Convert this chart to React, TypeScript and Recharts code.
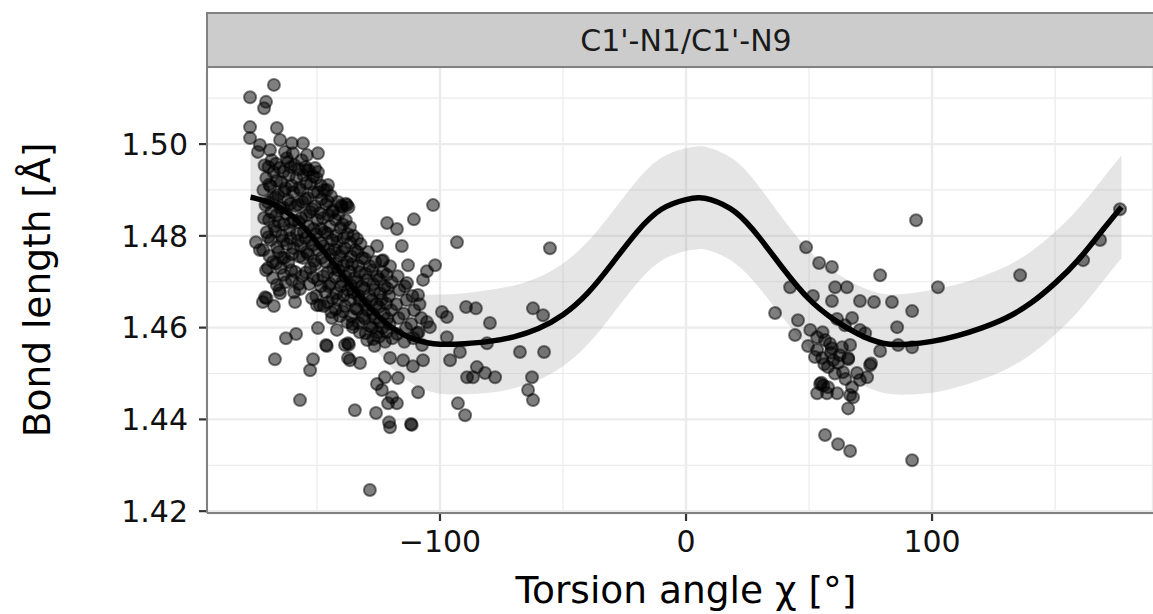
import React from 'react';
import { ComposedChart, Scatter, Line, Area, XAxis, YAxis, CartesianGrid } from 'recharts';

// ---- data ----
const xMajorTicks = [-100, 0, 100];
const xMinorTicks = [-150, -50, 50, 150];
const yMajorTicks = [1.42, 1.44, 1.46, 1.48, 1.5];
const yMinorTicks = [1.43, 1.45, 1.47, 1.49, 1.51];
const xDomain = [-194.7, 189.8];
const yDomain = [1.4196, 1.5168];

const facetLabel = "C1'-N1/C1'-N9";
const xTitle = 'Torsion angle χ [°]';
const yTitle = 'Bond length [Å]';

// smooth fit: chi, fitted bond length, half-width of confidence band
const fitChi = [-177, -170, -160, -150, -140, -130, -120, -110, -100, -90, -80, -70, -60, -50, -40, -30, -20, -10, 0, 5, 10, 20, 30, 40, 50, 60, 70, 80, 90, 100, 110, 120, 130, 140, 150, 160, 170, 177];
const fitValue = [1.4884, 1.4874, 1.4843, 1.4785, 1.4718, 1.4652, 1.4602, 1.4574, 1.4564, 1.4565, 1.457, 1.458, 1.4598, 1.4628, 1.4675, 1.474, 1.4808, 1.4858, 1.4879, 1.4883, 1.4879, 1.4852, 1.4795, 1.4725, 1.4662, 1.4618, 1.4586, 1.4566, 1.4564, 1.457, 1.4582, 1.4599, 1.4621, 1.4653, 1.4697, 1.4751, 1.4817, 1.4863];
const fitHalfWidth = [0.01, 0.0085, 0.007, 0.0062, 0.0062, 0.0072, 0.0088, 0.01, 0.0108, 0.011, 0.0112, 0.0112, 0.0112, 0.0112, 0.0112, 0.0112, 0.0112, 0.0112, 0.0112, 0.0112, 0.0112, 0.0112, 0.011, 0.0108, 0.0106, 0.0105, 0.0106, 0.0108, 0.011, 0.0112, 0.0112, 0.0112, 0.0112, 0.0112, 0.0112, 0.0112, 0.0112, 0.0112];

// observations in the anti region [chi, bond length]
const antiOuter: [number, number][] = [
  [-167.5, 1.5129], [-177.2, 1.5102], [-170.7, 1.5092], [-171.5, 1.5078], [-177.2, 1.5037], [-166.3, 1.5035], [-177.2, 1.5013], [-173.2, 1.4998], [-165.0, 1.5009], [-160.2, 1.5002], [-155.7, 1.5002], [-154.1, 1.4976], [-149.6, 1.498], [-150.8, 1.4948], [-149.6, 1.4939], [-145.5, 1.4911], [-146.0, 1.49], [-141.5, 1.4874], [-139.8, 1.4863], [-140.2, 1.4866], [-143.5, 1.4856], [-174.0, 1.4983], [-169.1, 1.4987], [-163.0, 1.4983], [-159.8, 1.498], [-161.8, 1.4961], [-154.1, 1.4943],
  [-174.8, 1.4786], [-173.2, 1.4769], [-169.9, 1.473], [-166.3, 1.4693], [-165.0, 1.4675], [-171.1, 1.4666], [-170.5, 1.4664], [-172.0, 1.4656], [-167.5, 1.4647], [-158.9, 1.4656], [-156.9, 1.4684], [-152.0, 1.4664], [-150.0, 1.4649], [-148.8, 1.4649], [-143.9, 1.4621], [-149.6, 1.4599], [-141.9, 1.4595], [-162.6, 1.4577], [-158.5, 1.4586], [-146.3, 1.4562], [-146.0, 1.456], [-138.6, 1.4562], [-167.1, 1.4531], [-151.6, 1.4531], [-137.4, 1.4534], [-160.2, 1.4704], [-167.9, 1.4708], [-164.2, 1.4752], [-152.8, 1.4507], [-156.9, 1.4442],
  [-102.8, 1.4867], [-110.6, 1.4836], [-121.5, 1.4828], [-117.5, 1.4815], [-93.1, 1.4786], [-125.6, 1.4778], [-115.5, 1.4778], [-123.2, 1.4747], [-123.6, 1.4745], [-113.0, 1.4736], [-102.0, 1.4736], [-105.3, 1.4723], [-106.9, 1.4704], [-113.4, 1.4697], [-108.9, 1.4671], [-137.8, 1.4867], [-137.2, 1.4862], [-138.3, 1.487], [-136.6, 1.4819], [-133.7, 1.4793],
  [-99.2, 1.4634], [-97.2, 1.4623], [-105.3, 1.4612], [-104.1, 1.4601], [-97.2, 1.4579], [-109.3, 1.4588], [-107.3, 1.4562], [-95.9, 1.4529], [-106.9, 1.4529], [-111.0, 1.4516], [-115.0, 1.4529], [-120.3, 1.4534], [-132.5, 1.4523], [-136.6, 1.4529], [-137.4, 1.4566], [-137.0, 1.4563], [-135.4, 1.4601], [-117.1, 1.449], [-122.4, 1.4492], [-125.6, 1.4477], [-123.6, 1.4464], [-119.5, 1.4448], [-117.5, 1.4435], [-121.1, 1.4435], [-108.9, 1.4459], [-134.6, 1.442], [-126.0, 1.4414], [-120.7, 1.4394], [-120.3, 1.4383], [-111.8, 1.439], [-111.5, 1.4388], [-92.7, 1.4435],
  [-55.3, 1.4773], [-89.4, 1.4645], [-85.4, 1.4642], [-79.7, 1.461], [-62.2, 1.4642], [-58.1, 1.4627], [-67.5, 1.4547], [-57.7, 1.4547], [-80.9, 1.4566], [-91.9, 1.4547], [-85.0, 1.4514], [-89.0, 1.4492], [-86.6, 1.4492], [-81.7, 1.4501], [-77.6, 1.4492], [-62.6, 1.4492], [-64.2, 1.4464], [-62.2, 1.4442], [-89.8, 1.4409], [-128.5, 1.4246],
];

const antiDense: [number, number][] = [
  [-171.3, 1.4954], [-170.6, 1.4926], [-171.8, 1.49], [-170.9, 1.4867], [-171.5, 1.4839], [-170.4, 1.4808], [-171.9, 1.4769], [-170.7, 1.4725],
  [-168.4, 1.4965], [-167.6, 1.4939], [-168.9, 1.4908], [-167.8, 1.4882], [-168.5, 1.4852], [-167.3, 1.4821], [-168.7, 1.4791], [-167.9, 1.4743],
  [-165.2, 1.4948], [-164.5, 1.4917], [-165.8, 1.4889], [-164.8, 1.486], [-165.5, 1.483], [-164.3, 1.48], [-165.6, 1.4765], [-164.7, 1.473], [-165.3, 1.4682],
  [-162.3, 1.4969], [-161.4, 1.4932], [-162.7, 1.4904], [-161.8, 1.4878], [-162.5, 1.4848], [-161.2, 1.4813], [-162.2, 1.4782], [-161.6, 1.4743], [-162.8, 1.4699],
  [-159.1, 1.4954], [-158.4, 1.4926], [-159.6, 1.4895], [-158.7, 1.4865], [-159.4, 1.4834], [-158.2, 1.4804], [-159.5, 1.4773], [-158.8, 1.4721], [-159.3, 1.4677],
  [-156.2, 1.4965], [-155.5, 1.4932], [-156.7, 1.49], [-155.8, 1.4874], [-156.4, 1.4839], [-155.3, 1.4808], [-156.6, 1.4778], [-155.7, 1.4752], [-156.1, 1.4712],
  [-153.3, 1.4943], [-152.5, 1.4913], [-153.7, 1.4882], [-152.8, 1.4852], [-153.5, 1.4821], [-152.3, 1.4791], [-153.6, 1.476], [-152.7, 1.473], [-153.1, 1.4695],
  [-150.2, 1.4926], [-149.6, 1.4895], [-150.8, 1.4865], [-149.8, 1.4834], [-150.5, 1.4804], [-149.4, 1.4769], [-150.6, 1.4738], [-149.7, 1.4704], [-150.3, 1.4669],
  [-147.1, 1.49], [-146.5, 1.4869], [-147.6, 1.4839], [-146.8, 1.4808], [-147.4, 1.4778], [-146.3, 1.4743], [-147.5, 1.4712], [-146.6, 1.4677], [-147.2, 1.4647],
  [-144.3, 1.4887], [-143.6, 1.4852], [-144.7, 1.4821], [-143.8, 1.4791], [-144.5, 1.476], [-143.4, 1.473], [-144.6, 1.4695], [-143.7, 1.4664], [-144.2, 1.4634],
  [-141.2, 1.4847], [-140.5, 1.4817], [-141.7, 1.4786], [-140.8, 1.4756], [-141.4, 1.4725], [-140.3, 1.469], [-141.6, 1.466], [-140.7, 1.4625],
  [-138.3, 1.4834], [-137.6, 1.4804], [-138.7, 1.4773], [-137.8, 1.4743], [-138.5, 1.4712], [-137.4, 1.4682], [-138.6, 1.4647], [-137.7, 1.4612],
  [-135.2, 1.48], [-134.5, 1.4769], [-135.7, 1.4738], [-134.8, 1.4708], [-135.4, 1.4677], [-134.3, 1.4642], [-135.6, 1.4608],
  [-132.3, 1.4782], [-131.6, 1.4752], [-132.7, 1.4721], [-131.8, 1.469], [-132.5, 1.466], [-131.4, 1.4625], [-132.6, 1.459],
  [-129.2, 1.4765], [-128.5, 1.4734], [-129.7, 1.4704], [-128.8, 1.4669], [-129.4, 1.4638], [-128.3, 1.4603], [-129.6, 1.4573],
  [-126.3, 1.4743], [-125.6, 1.4712], [-126.7, 1.4682], [-125.8, 1.4651], [-126.5, 1.4621], [-125.4, 1.459], [-126.6, 1.456],
  [-123.2, 1.4721], [-122.5, 1.469], [-123.7, 1.466], [-122.8, 1.463], [-123.4, 1.4599], [-122.3, 1.4569],
  [-120.3, 1.4734], [-119.6, 1.4699], [-120.7, 1.4669], [-119.8, 1.4638], [-120.5, 1.4608], [-119.4, 1.4577],
  [-117.2, 1.4712], [-116.5, 1.4682], [-117.7, 1.4651], [-116.8, 1.4621], [-117.4, 1.4586],
  [-114.3, 1.469], [-113.6, 1.466], [-114.7, 1.463], [-113.8, 1.4599], [-114.5, 1.4569],
  [-111.2, 1.4669], [-110.5, 1.4638], [-111.7, 1.4608], [-110.8, 1.4577],
  [-108.3, 1.4651], [-107.6, 1.4621], [-108.7, 1.459],
];

const antiCore: [number, number][] = [
  [-169.7, 1.495], [-169.4, 1.4912], [-169.9, 1.4873], [-169.5, 1.4835], [-169.8, 1.4797], [-169.3, 1.4756],
  [-166.7, 1.4957], [-166.4, 1.492], [-166.9, 1.4884], [-166.5, 1.4845], [-166.8, 1.481], [-166.2, 1.4775], [-166.6, 1.474],
  [-163.6, 1.494], [-163.3, 1.4898], [-163.8, 1.4862], [-163.4, 1.4825], [-163.7, 1.479], [-163.2, 1.4752], [-163.5, 1.4715],
  [-160.6, 1.495], [-160.3, 1.491], [-160.8, 1.487], [-160.4, 1.483], [-160.7, 1.4795], [-160.2, 1.476], [-160.5, 1.4725],
  [-157.5, 1.4945], [-157.2, 1.4905], [-157.7, 1.4868], [-157.3, 1.483], [-157.6, 1.479], [-157.1, 1.4755], [-157.4, 1.4695],
  [-154.6, 1.495], [-154.3, 1.4915], [-154.8, 1.488], [-154.4, 1.4845], [-154.7, 1.4795], [-154.2, 1.4765], [-154.5, 1.472],
  [-151.6, 1.493], [-151.3, 1.4895], [-151.8, 1.4858], [-151.4, 1.4815], [-151.7, 1.478], [-151.2, 1.4745], [-151.5, 1.471],
  [-148.5, 1.491], [-148.2, 1.488], [-148.7, 1.485], [-148.3, 1.4815], [-148.6, 1.4785], [-148.1, 1.4752], [-148.4, 1.469],
  [-145.6, 1.4875], [-145.3, 1.4845], [-145.8, 1.4805], [-145.4, 1.477], [-145.7, 1.472], [-145.2, 1.469], [-145.5, 1.4655],
  [-142.5, 1.4835], [-142.2, 1.48], [-142.7, 1.477], [-142.3, 1.474], [-142.6, 1.471], [-142.1, 1.4675], [-142.4, 1.464],
  [-139.5, 1.4825], [-139.2, 1.4795], [-139.7, 1.4765], [-139.3, 1.4735], [-139.6, 1.47], [-139.1, 1.467], [-139.4, 1.4635],
  [-136.4, 1.4785], [-136.1, 1.4755], [-136.6, 1.4722], [-136.2, 1.4692], [-136.5, 1.466], [-136.0, 1.4625],
  [-133.5, 1.4765], [-133.2, 1.4735], [-133.7, 1.47], [-133.3, 1.467], [-133.6, 1.464], [-133.1, 1.461],
  [-130.6, 1.475], [-130.3, 1.4718], [-130.8, 1.4685], [-130.4, 1.465], [-130.7, 1.462], [-130.2, 1.4588],
  [-127.5, 1.4725], [-127.2, 1.4695], [-127.7, 1.466], [-127.3, 1.463], [-127.6, 1.46], [-127.1, 1.4575],
  [-124.6, 1.4705], [-124.3, 1.4675], [-124.8, 1.4645], [-124.4, 1.4612], [-124.7, 1.458],
  [-121.6, 1.4715], [-121.3, 1.4685], [-121.8, 1.4652], [-121.4, 1.462], [-121.7, 1.459],
];

// observations in the syn / high-anti region
const synPoints: [number, number][] = [
  [36.2, 1.4632], [42.3, 1.4688], [48.8, 1.4775], [54.1, 1.4741], [59.3, 1.4732], [78.9, 1.4714], [60.6, 1.4688], [65.4, 1.4688], [51.6, 1.4669], [59.3, 1.4658], [70.7, 1.4658], [76.4, 1.4656], [83.7, 1.4656], [91.9, 1.4636], [45.5, 1.4616], [61.4, 1.4619], [67.5, 1.4621], [64.6, 1.4605], [70.7, 1.4595], [72.8, 1.4588], [85.8, 1.4601], [44.3, 1.4584], [49.6, 1.456], [53.3, 1.4579], [56.5, 1.4573], [59.3, 1.4555], [63.4, 1.4557], [66.7, 1.4562], [78.9, 1.4549], [86.2, 1.4562], [91.9, 1.4557], [53.3, 1.4551], [52.4, 1.4536], [55.3, 1.4534], [59.8, 1.4529], [65.9, 1.4531], [57.7, 1.4514], [61.8, 1.4523], [63.8, 1.4503], [65.9, 1.4534], [69.5, 1.4501], [74.8, 1.4518], [75.2, 1.4522], [73.6, 1.4492], [70.7, 1.4486], [54.5, 1.4477], [55.0, 1.448], [55.8, 1.4474], [57.7, 1.447], [53.3, 1.4457], [57.3, 1.4457], [61.4, 1.4457], [67.5, 1.447], [66.7, 1.4453], [67.9, 1.4448], [65.9, 1.4424], [56.5, 1.4366], [61.8, 1.4346], [66.7, 1.4331], [91.9, 1.4311], [93.5, 1.4834], [102.4, 1.4688], [135.8, 1.4714], [161.4, 1.4747], [168.3, 1.4791], [176.4, 1.4858],
  [50.5, 1.4595], [55.5, 1.459], [58.5, 1.4565], [62.5, 1.454], [60.5, 1.45], [64.8, 1.4488], [58.8, 1.4545], [56.2, 1.452],
];

const curveData = fitChi.map((x, i) => ({
  x,
  fit: fitValue[i],
  band: [fitValue[i] - fitHalfWidth[i], fitValue[i] + fitHalfWidth[i]],
}));
const pointData = [...antiOuter, ...antiDense, ...antiCore, ...synPoints].map(([x, y]) => ({ x, y }));

const FONT = '"DejaVu Sans", sans-serif';
const W = 1153;
const H = 614;
const PLOT_LEFT = 207;
const PLOT_TOP = 67;
const PLOT_BOTTOM = 513;
const PANEL_CENTER_X = 686;

const fmtX = (v: number) => String(v).replace('-', '\u2212');
const fmtY = (v: number) => v.toFixed(2);

const Dot = (props: any) => {
  const { cx, cy } = props;
  if (cx == null || cy == null) return null;
  return (
    <circle cx={cx} cy={cy} r={6} fill="#000" fillOpacity={0.5} stroke="#000" strokeOpacity={0.5} strokeWidth={2} />
  );
};

export default function App() {
  return (
    <div style={{ position: 'absolute', left: 0, top: 0, width: W, height: H, background: '#fff' }}>
      <ComposedChart
        width={W}
        height={H}
        data={curveData}
        margin={{ top: PLOT_TOP, right: 0, bottom: 0, left: 0 }}
      >
        <CartesianGrid
          stroke="#ebebeb"
          strokeWidth={1.2}
          horizontalValues={yMinorTicks}
          verticalValues={xMinorTicks}
        />
        <CartesianGrid stroke="#ebebeb" strokeWidth={2.4} />
        <XAxis
          type="number"
          dataKey="x"
          domain={xDomain}
          allowDataOverflow
          ticks={xMajorTicks}
          tickFormatter={fmtX}
          height={H - PLOT_BOTTOM}
          axisLine={false}
          tickSize={8}
          tickMargin={10}
          tickLine={{ stroke: '#333', strokeWidth: 2.2 }}
          tick={{ fill: '#111', fontSize: 30, fontFamily: FONT }}
        />
        <YAxis
          type="number"
          dataKey="y"
          domain={yDomain}
          allowDataOverflow
          ticks={yMajorTicks}
          tickFormatter={fmtY}
          width={PLOT_LEFT}
          axisLine={false}
          tickSize={8}
          tickMargin={11}
          tickLine={{ stroke: '#333', strokeWidth: 2.2 }}
          tick={{ fill: '#111', fontSize: 30, fontFamily: FONT }}
        />
        <Area
          type="natural"
          dataKey="band"
          stroke="none"
          fill="#999999"
          fillOpacity={0.25}
          isAnimationActive={false}
          activeDot={false}
        />
        <Scatter data={pointData} dataKey="y" shape={Dot} isAnimationActive={false} />
        <Line
          type="natural"
          dataKey="fit"
          stroke="#000"
          strokeWidth={5.5}
          dot={false}
          activeDot={false}
          isAnimationActive={false}
        />
      </ComposedChart>
      <svg
        width={W}
        height={H}
        style={{ position: 'absolute', left: 0, top: 0, pointerEvents: 'none' }}
      >
        <rect x={PLOT_LEFT} y={13} width={W - PLOT_LEFT + 10} height={PLOT_TOP - 13} fill="#cccccc" stroke="#808080" strokeWidth={2} />
        <text x={PANEL_CENTER_X} y={40} textAnchor="middle" dominantBaseline="central" fontFamily={FONT} fontSize={30} fill="#1a1a1a">
          {facetLabel}
        </text>
        <line x1={PLOT_LEFT} y1={PLOT_TOP} x2={PLOT_LEFT} y2={PLOT_BOTTOM} stroke="#808080" strokeWidth={2} />
        <line x1={PLOT_LEFT} y1={PLOT_BOTTOM} x2={W} y2={PLOT_BOTTOM} stroke="#808080" strokeWidth={2} />
        <text x={PANEL_CENTER_X} y={603} textAnchor="middle" fontFamily={FONT} fontSize={37.5} fill="#000">
          {xTitle}
        </text>
        <text
          x={0}
          y={0}
          transform={`translate(50, ${(PLOT_TOP + PLOT_BOTTOM) / 2}) rotate(-90)`}
          textAnchor="middle"
          fontFamily={FONT}
          fontSize={37.5}
          fill="#000"
        >
          {yTitle}
        </text>
      </svg>
    </div>
  );
}
